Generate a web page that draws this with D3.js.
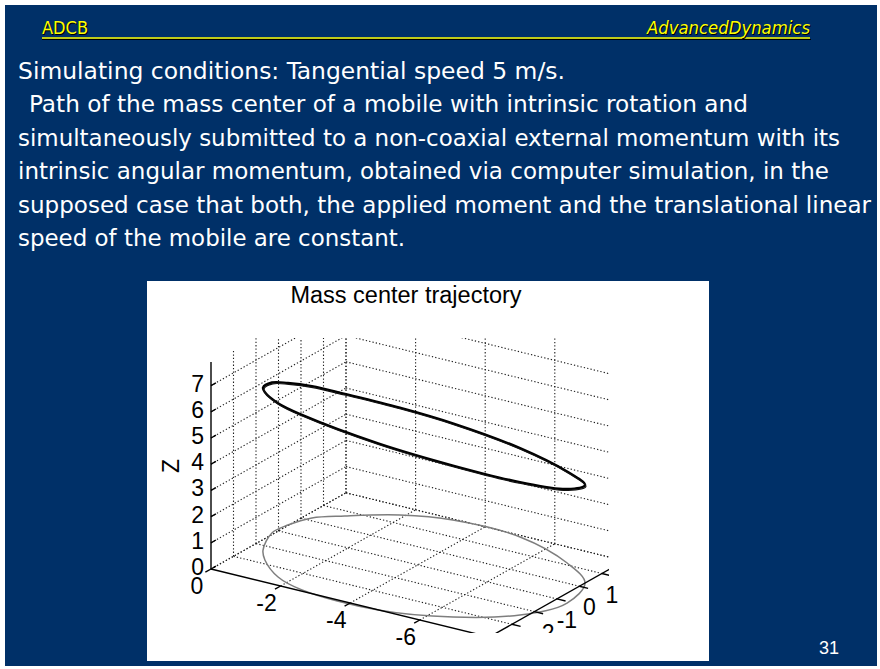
<!DOCTYPE html>
<html>
<head>
<meta charset="utf-8">
<script src="https://cdn.jsdelivr.net/npm/d3@7"></script>
<style>
  body { margin: 0; background: #fff; }
  svg { display: block; }
</style>
</head>
<body>
<script>
// slide texts
const headerLeft = "ADCB";
const headerRight = "AdvancedDynamics";
const bodyLines = [
    "Simulating conditions: Tangential speed 5 m/s.",
    "Path of the mass center of a mobile with intrinsic rotation and",
    "simultaneously submitted to a non-coaxial external momentum with its",
    "intrinsic angular momentum, obtained via computer simulation, in the",
    "supposed case that both, the applied moment and the translational linear",
    "speed of the mobile are constant."
];
const pageNumber = "31";
const chartTitle = "Mass center trajectory";
const zLabel = "Z";

// axis limits and ticks
const xDomain = [0, -8];
const yDomain = [-4, 2];
const zDomain = [0, 7.9];
const xTicks = [0, -2, -4, -6, -8];
const yTicks = [-4, -3, -2, -1, 0, 1, 2];
const zTicks = [0, 1, 2, 3, 4, 5, 6, 7];
const xTickLabels = [0, -2, -4, -6];
const yTickLabels = [-2, -1, 0, 1];

// mass center trajectory
const trajX = [0.02, -0.21, -0.80, -1.87, -3.11, -5.06, -6.93, -8.00, -8.35, -7.83, -6.56, -4.81, -2.57, -1.63, -0.76, -0.37, 0.06];
const trajY = [-0.55, 0.16, 0.71, 1.50, 1.94, 1.91, 1.11, 0.25, -1.09, -2.38, -3.39, -4.01, -3.93, -3.54, -2.78, -2.26, -1.20];
const trajZ = [5.42, 5.03, 4.66, 4.10, 3.69, 3.39, 3.49, 3.74, 4.35, 5.07, 5.78, 6.36, 6.68, 6.63, 6.40, 6.20, 5.74];

const W = 880, H = 669;
const svg = d3.select("body").append("svg")
    .attr("width", W)
    .attr("height", H);

// slide background
svg.append("rect").attr("width", W).attr("height", H).attr("fill", "#ffffff");
svg.append("rect")
    .attr("x", 5).attr("y", 5)
    .attr("width", 872).attr("height", 661)
    .attr("fill", "#003068");

// header
const yellow = "#ffff00";
svg.append("line")
    .attr("x1", 42).attr("x2", 811).attr("y1", 39.5).attr("y2", 39.5)
    .attr("stroke", "#000").attr("stroke-width", 1.2);
svg.append("line")
    .attr("x1", 42).attr("x2", 810).attr("y1", 38).attr("y2", 38)
    .attr("stroke", yellow).attr("stroke-width", 1.6);

const headFont = "'DejaVu Sans Condensed', 'DejaVu Sans', sans-serif";
[[headerLeft, 42, 46, "normal"], [headerRight, 647, 163, "italic"]].forEach(([t, x, len, st]) => {
    svg.append("text")
        .attr("x", x + 1).attr("y", 35)
        .attr("font-family", headFont).attr("font-size", 17).attr("font-style", st)
        .attr("textLength", len).attr("lengthAdjust", "spacingAndGlyphs")
        .attr("fill", "#000").text(t);
    svg.append("text")
        .attr("x", x).attr("y", 34)
        .attr("font-family", headFont).attr("font-size", 17).attr("font-style", st)
        .attr("textLength", len).attr("lengthAdjust", "spacingAndGlyphs")
        .attr("fill", yellow).text(t);
});

// body text
const lineX = [18, 29, 18, 18, 18, 18];
const lineLen = [547, 719, 822, 811, 853, 387];
svg.append("g")
    .attr("font-family", headFont)
    .attr("font-size", 22.5)
    .attr("fill", "#ffffff")
    .selectAll("text")
    .data(bodyLines)
    .join("text")
    .attr("x", (d, i) => lineX[i])
    .attr("y", (d, i) => 79 + i * 33.4)
    .attr("textLength", (d, i) => lineLen[i])
    .attr("lengthAdjust", "spacingAndGlyphs")
    .text(d => d);

// page number
svg.append("text")
    .attr("x", 829).attr("y", 654)
    .attr("text-anchor", "middle")
    .attr("font-family", "'Liberation Sans', Arial, sans-serif")
    .attr("font-size", 18)
    .attr("fill", "#ffffff")
    .text(pageNumber);

// chart picture
svg.append("rect")
    .attr("x", 147).attr("y", 281)
    .attr("width", 562).attr("height", 380)
    .attr("fill", "#ffffff");

const chartFont = "'Liberation Sans', Arial, Helvetica, sans-serif";
svg.append("text")
    .attr("x", 406).attr("y", 303)
    .attr("text-anchor", "middle")
    .attr("font-family", chartFont).attr("font-size", 23.5)
    .attr("fill", "#000")
    .text(chartTitle);

// 3D -> screen (orthographic, MATLAB-like view)
const origin = [211, 569]; // (x=0, y=-4, z=0)
const xSX = d3.scaleLinear().domain(xDomain).range([0, 278.4]);
const xSY = d3.scaleLinear().domain(xDomain).range([0, 68]);
const ySX = d3.scaleLinear().domain(yDomain).range([0, 135]);
const ySY = d3.scaleLinear().domain(yDomain).range([0, -76.2]);
const zSY = d3.scaleLinear().domain(zDomain).range([0, -207]);

function proj(x, y, z) {
    return [origin[0] + xSX(x) + ySX(y), origin[1] + xSY(x) + ySY(y) + zSY(z)];
}

const defs = svg.append("defs");
defs.append("clipPath").attr("id", "plotClip")
    .append("rect").attr("x", 148).attr("y", 338).attr("width", 461).attr("height", 295);
defs.append("clipPath").attr("id", "labelClip")
    .append("rect").attr("x", 148).attr("y", 338).attr("width", 480).attr("height", 295);

const plot = svg.append("g").attr("clip-path", "url(#plotClip)");

const x0 = xDomain[0], x1 = xDomain[1];
const y0 = yDomain[0], y1 = yDomain[1];
const zTop = zDomain[1];

// grid segments on the two back walls and the floor
const grid = [];
yTicks.filter(y => y !== y0).forEach(y => grid.push([[x0, y, 0], [x0, y, zTop]]));
zTicks.forEach(z => grid.push([[x0, y0, z], [x0, y1, z]]));
xTicks.forEach(x => grid.push([[x, y1, 0], [x, y1, zTop]]));
zTicks.forEach(z => grid.push([[x0, y1, z], [x1, y1, z]]));
xTicks.filter(x => x !== x1).forEach(x => grid.push([[x, y0, 0], [x, y1, 0]]));
yTicks.filter(y => y !== y0).forEach(y => grid.push([[x0, y, 0], [x1, y, 0]]));

const seg = d3.line();
plot.append("g")
    .attr("fill", "none")
    .attr("stroke", "#1e1e1e")
    .attr("stroke-width", 1.1)
    .attr("stroke-dasharray", "1.3,2.1")
    .selectAll("path")
    .data(grid)
    .join("path")
    .attr("d", d => seg(d.map(p => proj(...p))));

// trajectory and its projection on the floor
const closed = d3.line().curve(d3.curveCatmullRomClosed.alpha(0.5));
const idx = d3.range(trajX.length);

plot.append("path")
    .attr("d", closed(idx.map(i => proj(trajX[i], trajY[i], 0))))
    .attr("fill", "none")
    .attr("stroke", "#7e7e7e")
    .attr("stroke-width", 1.5);

// axis lines
const axes = [
    [[x0, y0, 0], [x1, y0, 0]],
    [[x1, y0, 0], [x1, y1, 0]],
    [[x0, y0, 0], [x0, y0, zTop]]
];
const ticks = [];
xTicks.forEach(x => ticks.push([[x, y0, 0], [x, y0 - 0.25, 0]]));
yTicks.forEach(y => ticks.push([[x1, y, 0], [x1 - 0.25, y, 0]]));
zTicks.forEach(z => ticks.push([[x0, y0, z], [x0, y0 + 0.22, z]]));

plot.append("g")
    .attr("fill", "none")
    .attr("stroke", "#000")
    .attr("stroke-width", 1.4)
    .selectAll("path")
    .data(axes.concat(ticks))
    .join("path")
    .attr("d", d => seg(d.map(p => proj(...p))));

const trajPath = closed(idx.map(i => proj(trajX[i], trajY[i], trajZ[i])));
plot.append("path")
    .attr("d", trajPath)
    .attr("fill", "none")
    .attr("stroke", "#000")
    .attr("stroke-width", 2.4);
plot.append("path")
    .attr("d", trajPath)
    .attr("transform", "translate(0.9,1.4)")
    .attr("fill", "none")
    .attr("stroke", "#111")
    .attr("stroke-width", 1.2);

// tick labels
const labelFont = { family: chartFont, size: 23 };

svg.append("g")
    .attr("font-family", labelFont.family)
    .attr("font-size", labelFont.size)
    .attr("fill", "#000")
    .attr("dominant-baseline", "central")
    .selectAll("text")
    .data(zTicks)
    .join("text")
    .attr("x", z => proj(x0, y0, z)[0] - 7)
    .attr("y", z => proj(x0, y0, z)[1] - 2)
    .attr("text-anchor", "end")
    .text(z => z);

svg.append("g")
    .attr("font-family", labelFont.family)
    .attr("font-size", labelFont.size)
    .attr("fill", "#000")
    .attr("dominant-baseline", "central")
    .selectAll("text")
    .data(xTickLabels)
    .join("text")
    .attr("x", x => proj(x, y0, 0)[0] - 14)
    .attr("y", x => proj(x, y0, 0)[1] + 17)
    .attr("text-anchor", "middle")
    .text(x => x);

svg.append("g")
    .attr("clip-path", "url(#labelClip)")
    .attr("font-family", labelFont.family)
    .attr("font-size", labelFont.size)
    .attr("fill", "#000")
    .attr("dominant-baseline", "central")
    .selectAll("text")
    .data(yTickLabels)
    .join("text")
    .attr("x", y => proj(x1, y, 0)[0] + 10)
    .attr("y", y => proj(x1, y, 0)[1] + 21)
    .attr("text-anchor", "middle")
    .text(y => y);

svg.append("text")
    .attr("transform", "translate(179,466) rotate(-90)")
    .attr("text-anchor", "middle")
    .attr("font-family", chartFont)
    .attr("font-size", 23)
    .attr("fill", "#000")
    .text(zLabel);
</script>
</body>
</html>
